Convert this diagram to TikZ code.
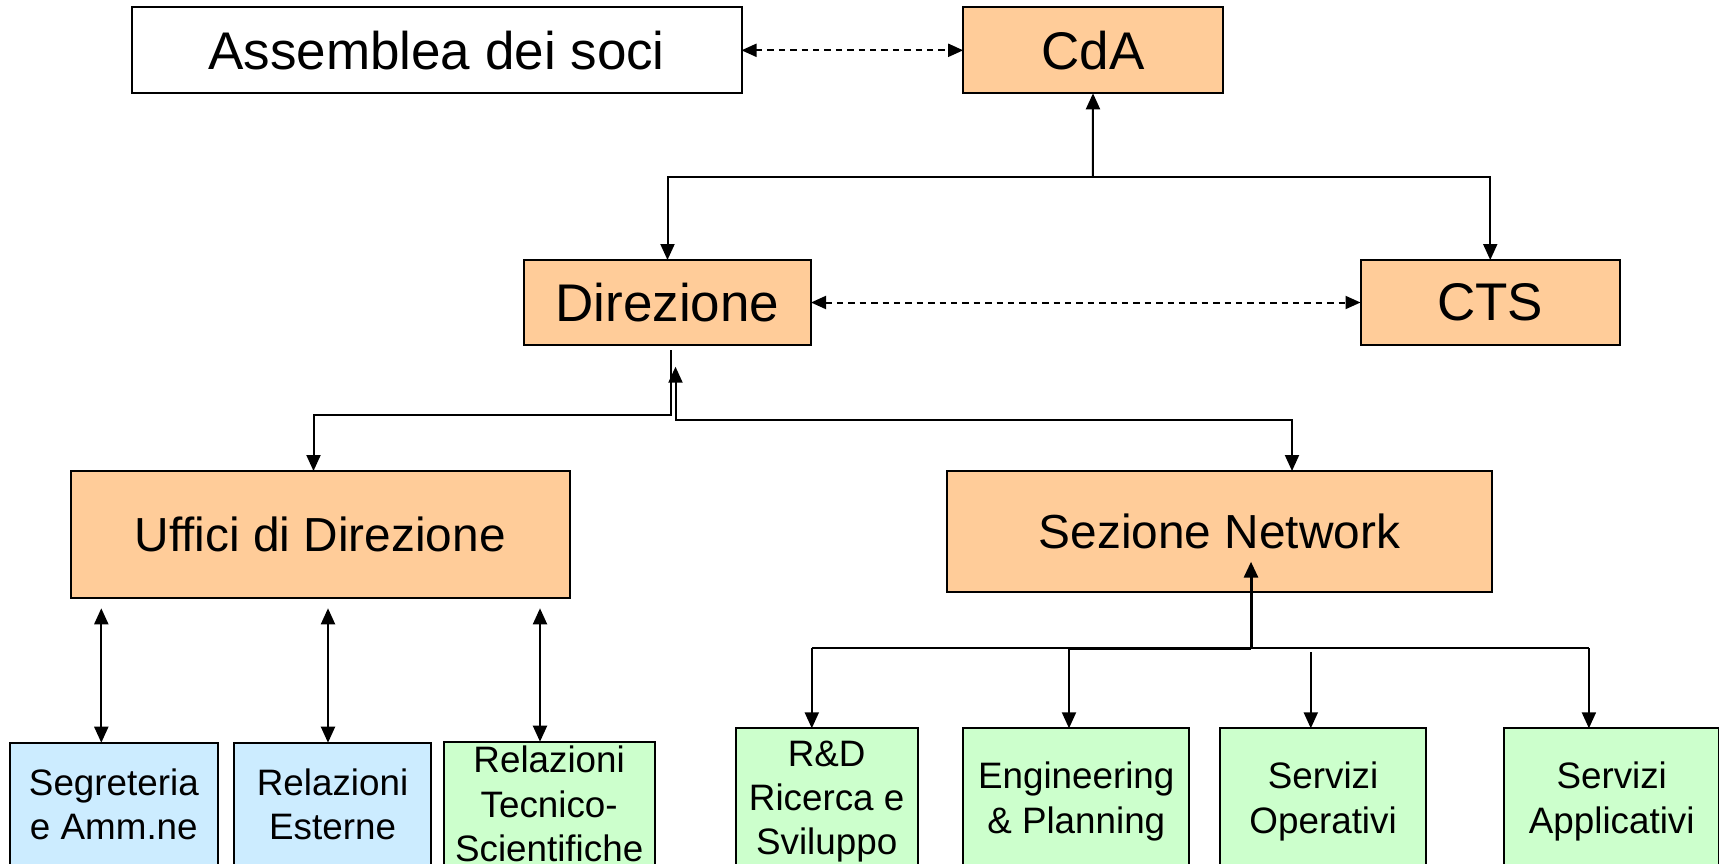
\documentclass[tikz,border=0pt]{standalone}
\usepackage{fontspec}
\setmainfont{Liberation Sans}
\usetikzlibrary{arrows.meta,fit}
\definecolor{peach}{HTML}{FFCC99}
\definecolor{lblue}{HTML}{CCECFF}
\definecolor{lgreen}{HTML}{CCFFCC}
\begin{document}
\begin{tikzpicture}[x=0.5pt,y=-0.5pt,
  box/.style={draw=black, line width=1pt, inner sep=0pt, outer sep=0pt},
  big/.style={font=\fontsize{26.5}{31}\selectfont, align=center, inner sep=0pt},
  mid/.style={font=\fontsize{23.9}{28}\selectfont, align=center, inner sep=0pt},
  small/.style={font=\fontsize{18.4}{22.2}\selectfont, align=center, inner sep=0pt},
  orgbox/.style={box, fill=peach},
  bluebox/.style={box, fill=lblue},
  greenbox/.style={box, fill=lgreen},
  conn/.style={line width=1pt},
  tip/.tip={Triangle[length=8pt,width=7pt]},
  dtipx/.tip={Triangle[length=7.5pt,width=6.5pt]},
  arr/.style={conn, -tip},
  darr/.style={conn, tip-tip},
  dasharr/.style={line width=1pt, dash pattern=on 3.2pt off 2.5pt, dtipx-dtipx}
]
\useasboundingbox (0,0) rectangle (1719,863);
\fill[white] (0,0) rectangle (1719,863);
\clip (0,0) rectangle (1719,863);

% top level
\node[box, fill=white, fit={(131.6,7.3) (741.5,93.3)}, label={[big]center:Assemblea dei soci}] (asm) {};
\node[orgbox, fit={(963.2,7.3) (1222.8,93.3)}, label={[big]center:CdA}] (cda) {};
\node[orgbox, fit={(524,260) (811,345)}, label={[big]center:Direzione}] (dir) {};
\node[orgbox, fit={(1360.5,260) (1620,345)}, label={[big]center:CTS}] (cts) {};
\node[orgbox, fit={(70.5,471) (570,598.3)}, label={[mid]center:Uffici di Direzione}] (uff) {};
\node[orgbox, fit={(947,471) (1492,591.7)}, label={[mid]center:Sezione Network}] (sez) {};

% bottom level
\node[bluebox, fit={(9.8,742.7) (217.9,866)}, label={[small]center:{Segreteria\\e Amm.ne}}] (seg) {};
\node[bluebox, fit={(234.4,742.7) (430.8,866)}, label={[small]center:{Relazioni\\Esterne}}] (rel) {};
\node[greenbox, fit={(443.8,741.7) (654.5,866)}, label={[small]center:{Relazioni\\Tecnico-\\Scientifiche}}] (rts) {};
\node[greenbox, fit={(735.7,728.3) (917.7,875)}, label={[small]center:{R\&D\\Ricerca e\\Sviluppo}}] (rd) {};
\node[greenbox, fit={(963.2,728.3) (1189.3,875)}, label={[small]center:{Engineering\\\& Planning}}] (eng) {};
\node[greenbox, fit={(1219.8,728.3) (1426.4,875)}, label={[small]center:{Servizi\\Operativi}}] (sop) {};
\node[greenbox, fit={(1504.4,728.3) (1719,875)}, label={[small]center:{Servizi\\Applicativi}}] (sap) {};

% dashed links
\draw[dasharr] (asm.east) -- (cda.west);
\draw[dasharr] (dir.east) -- (cts.west);

% CdA -> Direzione, CTS
\coordinate (cdaj) at (1092.9,176.7);
\draw[arr] (cdaj) -- (cda.south);
\draw[arr] (cdaj) -| (dir.north);
\draw[arr] (cdaj) -| (cts.north);

% Direzione -> Uffici, Sezione
\coordinate (dtop) at (671,350);
\coordinate (dtip) at (675.5,366.7);
\draw[arr] (dtop) |- (313.5,415) -- (uff.north -| 313.5,0);
\draw[darr] (dtip) |- (1292,419.5) -- (sez.north -| 1292,0);

% Uffici <-> children
\draw[darr] (101.3,608.3) -- (seg.north -| 101.3,0);
\draw[darr] (328,608.3) -- (rel.north -| 328,0);
\draw[darr] (540,608.3) -- (rts.north -| 540,0);

% Sezione -> children
\coordinate (sj) at (1251,648.3);
\coordinate (stip) at (1251,561.7);
\draw[line width=1.5pt, -tip] (sj) -- (stip);
\draw[conn] (811.8,648.3) -- (1588.9,648.3);
\draw[line width=1.4pt] (1069,648.3) -- (sj);
\draw[arr] (811.8,648.3) -- (rd.north -| 811.8,0);
\draw[arr] (1069,648.3) -- (eng.north -| 1069,0);
\draw[arr] (1310.8,652.3) -- (sop.north -| 1310.8,0);
\draw[arr] (1588.9,648.3) -- (sap.north -| 1588.9,0);
\end{tikzpicture}
\end{document}
